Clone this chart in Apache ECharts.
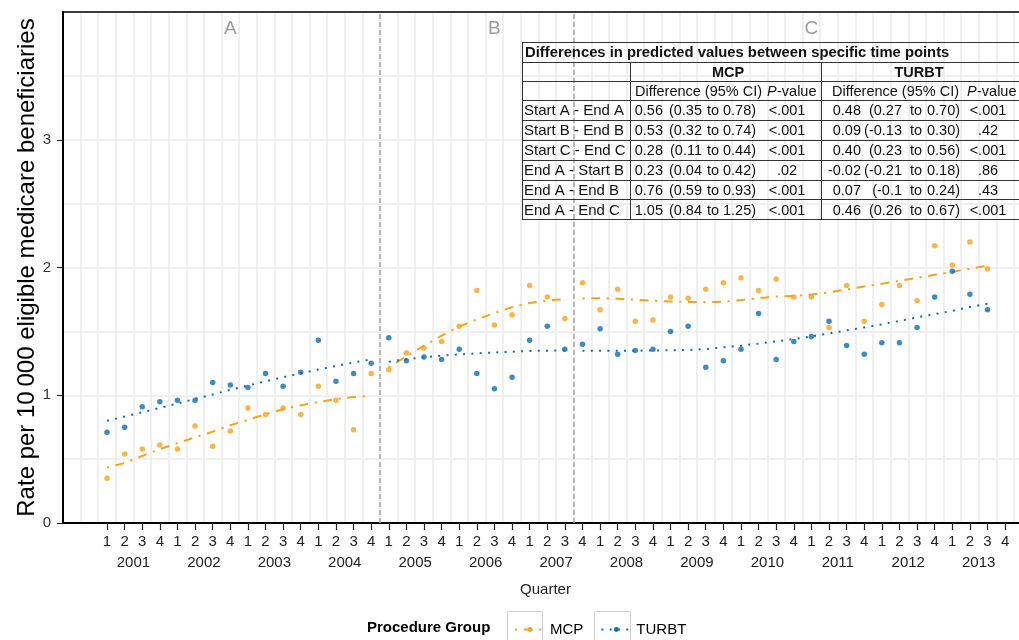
<!DOCTYPE html>
<html><head><meta charset="utf-8">
<script src="https://cdn.jsdelivr.net/npm/echarts@6/dist/echarts.min.js"></script>
<style>html,body{margin:0;padding:0;background:#fff}#c{width:1019px;height:640px}</style>
</head><body><div id="c"></div>
<script>
// ---------- data ----------
const years = ['2001','2002','2003','2004','2005','2006','2007','2008','2009','2010','2011','2012','2013'];
const quarterNames = ['1','2','3','4'];
const seriesNames = ['MCP','TURBT'];
const periodNames = ['A','B','C'];
const periodStart = [0, 16, 27];   // quarter index where each period starts
const periodEnd = [15, 26, 50];    // quarter index where each period ends
const periodBreaks = [15.5, 26.5];
const periodLabelAt = [7, 22, 40];

// observed rates, 2001 Q1 .. 2013 Q3
const mcpObs = [0.35,0.54,0.58,0.61,0.58,0.76,0.60,0.72,0.90,0.85,0.90,0.85,1.07,0.96,0.73,1.17,
  1.20,1.33,1.37,1.42,1.54,1.82,1.55,1.63,1.86,1.77,1.60,
  1.88,1.67,1.83,1.58,1.59,1.77,1.76,1.83,1.88,1.92,1.82,1.91,1.77,1.77,1.53,1.86,1.58,1.71,1.86,1.74,2.17,2.02,2.20,1.99];
const turbtObs = [0.71,0.75,0.91,0.95,0.96,0.96,1.10,1.08,1.06,1.17,1.07,1.18,1.43,1.11,1.17,1.25,
  1.45,1.27,1.30,1.28,1.36,1.17,1.05,1.14,1.43,1.54,1.36,
  1.40,1.52,1.32,1.35,1.36,1.50,1.54,1.22,1.27,1.36,1.64,1.28,1.42,1.46,1.58,1.39,1.32,1.41,1.41,1.53,1.77,1.97,1.79,1.67];
// fitted (predicted) values
const mcpFit = [0.435,0.47,0.525,0.578,0.625,0.672,0.715,0.765,0.807,0.852,0.89,0.922,0.947,0.97,0.986,0.995,
  1.22,1.305,1.388,1.466,1.537,1.594,1.643,1.69,1.722,1.742,1.752,
  1.758,1.759,1.755,1.747,1.740,1.734,1.730,1.729,1.732,1.745,1.760,1.773,1.778,1.788,1.805,1.828,1.852,1.873,1.896,1.919,1.943,1.966,1.99,2.015];
const turbtFit = [0.80,0.833,0.867,0.901,0.935,0.971,1.006,1.042,1.076,1.109,1.141,1.172,1.201,1.229,1.256,1.281,
  1.263,1.281,1.297,1.310,1.320,1.328,1.335,1.341,1.346,1.349,1.352,
  1.349,1.349,1.348,1.349,1.350,1.352,1.354,1.362,1.375,1.388,1.404,1.422,1.440,1.461,1.484,1.508,1.531,1.555,1.582,1.609,1.635,1.661,1.690,1.716];

// table
const tableTitle = 'Differences in predicted values between specific time points';
const tableRows = ['Start A - End A','Start B - End B','Start C - End C','End A - Start B','End A - End B','End A - End C'];
const mcpEst = ['0.56','0.53','0.28','0.23','0.76','1.05'];
const mcpLo  = ['0.35','0.32','0.11','0.04','0.59','0.84'];
const mcpHi  = ['0.78','0.74','0.44','0.42','0.93','1.25'];
const mcpP   = ['<.001','<.001','<.001','.02','<.001','<.001'];
const turbtEst = ['0.48','0.09','0.40','-0.02','0.07','0.46'];
const turbtLo  = ['0.27','-0.13','0.23','-0.21','-0.1','0.26'];
const turbtHi  = ['0.70','0.30','0.56','0.18','0.24','0.67'];
const turbtP   = ['<.001','.42','<.001','.86','.43','<.001'];

// ---------- chart ----------
const FONT = '"Liberation Sans", Arial, sans-serif';
const colors = {MCP:'#F7A21B', TURBT:'#0E6DB3'};
const dashes = {MCP:[2.2,6.6,8.8,6.6], TURBT:[2,6.3]};

const tickIdx = [];
const tickLabel = {};
years.forEach((y, yi) => quarterNames.forEach((q, qi) => { const k = yi*4+qi; tickIdx.push(k); tickLabel[k] = q; }));

const obs = {MCP: mcpObs, TURBT: turbtObs};
const fit = {MCP: mcpFit, TURBT: turbtFit};

const series = [];
seriesNames.forEach(name => {
  periodNames.forEach((p, pi) => {
    const d = [];
    for (let i = periodStart[pi]; i <= periodEnd[pi]; i++) d.push([i, fit[name][i]]);
    series.push({
      type:'line', name, data:d, xAxisIndex:0, yAxisIndex:0,
      showSymbol:false, symbol:'circle', symbolSize:5, smooth:false,
      lineStyle:{color:colors[name], width:2, type:dashes[name], cap:'butt'},
      itemStyle:{color:colors[name]}, z:3, silent:true
    });
  });
  series.push({
    type:'scatter', name, data: obs[name].map((v, i) => [i, v]), xAxisIndex:0, yAxisIndex:0,
    symbolSize:5.5, itemStyle:{color:colors[name]}, z:4, silent:true
  });
});
// period dividers and labels
series.push({
  type:'scatter', name:'periods', data:[], xAxisIndex:0, yAxisIndex:0, silent:true,
  markLine:{silent:true, symbol:['none','none'], label:{show:false},
    lineStyle:{color:'#a6a6a6', width:1.5, type:[5,3]},
    data: periodBreaks.map(b => ({xAxis:b}))},
  markPoint:{silent:true, symbol:'circle', symbolSize:0,
    label:{show:true, formatter:'{b}', color:'#9c9c9c', fontSize:19, fontFamily:FONT},
    data: periodNames.map((p, i) => ({name:p, coord:[periodLabelAt[i], 3.87]}))}
});

// table graphic
const TF = 14.5;
const g = [];
const L = (x1,y1,x2,y2,c) => g.push({type:'line', silent:true, z:50, shape:{x1,y1,x2,y2}, style:{stroke:c||'#333', lineWidth:1}});
const T = (text,x,y,opt) => g.push({type:'text', silent:true, z:51, style:Object.assign({text, x, y, fill:'#111', fontSize:TF, fontFamily:FONT, align:'left', verticalAlign:'middle'}, opt||{})});
[42.5,62.5,81.5,100.5,120.5,140.5,160.5,180.5,199.5,219.5].forEach(y => L(522,y,1019,y));
L(522.5,42.5,522.5,219.5); L(630.5,62.5,630.5,219.5); L(821.5,62.5,821.5,219.5);
T(tableTitle, 525, 53, {fontWeight:'bold', fontSize:14.8});
T('MCP', 728, 72.5, {fontWeight:'bold', align:'center'});
T('TURBT', 919, 72.5, {fontWeight:'bold', align:'center'});
T('Difference (95% CI)', 635, 91.5); T('P', 767, 91.5, {fontStyle:'italic'}); T('-value', 777, 91.5);
T('Difference (95% CI)', 832, 91.5); T('P', 967, 91.5, {fontStyle:'italic'}); T('-value', 977, 91.5);
const rowY = [111, 131, 151, 171, 190.5, 210.5];
tableRows.forEach((r, i) => {
  const y = rowY[i];
  T(r, 524, y, {fontSize:15});
  T(mcpEst[i], 663, y, {align:'right'});
  T('(' + mcpLo[i], 702, y, {align:'right'});
  T('to', 707, y);
  T(mcpHi[i] + ')', 723, y);
  T(mcpP[i], 787, y, {align:'center'});
  T(turbtEst[i], 861, y, {align:'right'});
  T('(' + turbtLo[i], 902, y, {align:'right'});
  T('to', 910, y);
  T(turbtHi[i] + ')', 927, y);
  T(turbtP[i], 988, y, {align:'center'});
});
// legend title and key boxes
T('Procedure Group', 367, 628, {fontWeight:'bold', fill:'#000', fontSize:15});
g.push({type:'rect', silent:true, z:40, shape:{x:507.5, y:611.5, width:35, height:40}, style:{fill:'none', stroke:'#cfcfcf', lineWidth:1}});
g.push({type:'rect', silent:true, z:40, shape:{x:594.5, y:611.5, width:36, height:40}, style:{fill:'none', stroke:'#cfcfcf', lineWidth:1}});

const option = {
  animation:false,
  textStyle:{fontFamily:FONT},
  grid:{left:63, right:-9, top:12, bottom:117, outerBoundsMode:'none', containLabel:false, show:false},
  legend:{data:seriesNames, left:509, top:617, itemWidth:30, itemHeight:6, itemGap:17,
    textStyle:{fontSize:15, color:'#000', fontFamily:FONT}, selectedMode:false},
  xAxis:[
    {type:'value', min:-2.5, max:52.3, position:'bottom',
     axisLine:{show:true, onZero:false, lineStyle:{color:'#000', width:2}},
     axisTick:{show:true, customValues:tickIdx, length:7, lineStyle:{color:'#222', width:1.2}},
     axisLabel:{show:true, customValues:tickIdx, formatter:v => tickLabel[v] || '', fontSize:15, color:'#222', margin:11},
     splitLine:{show:false},
     name:'Quarter', nameLocation:'middle', nameGap:59, nameTextStyle:{fontSize:15, color:'#222'}},
    {type:'value', min:-2, max:52.8, interval:1, position:'top',
     axisLine:{show:true, onZero:false, lineStyle:{color:'#000', width:1.5}}, axisTick:{show:false}, axisLabel:{show:false},
     splitLine:{show:true, lineStyle:{color:'#efefef', width:2}}},
    {type:'value', min:-4, max:50.8, interval:4, position:'bottom',
     axisLine:{show:false}, axisTick:{show:false}, splitLine:{show:false},
     axisLabel:{formatter:v => (v >= 0 && Number.isInteger(v/4) && years[v/4]) ? years[v/4] : '', fontSize:15, color:'#222', margin:32}}
  ],
  yAxis:[
    {type:'value', min:0, max:4, position:'left',
     axisLine:{show:true, onZero:false, lineStyle:{color:'#000', width:2}},
     axisTick:{show:true, customValues:[0,1,2,3], length:6, lineStyle:{color:'#222', width:1.2}},
     axisLabel:{customValues:[0,1,2,3], fontSize:15, color:'#333', margin:12},
     splitLine:{show:false},
     name:'Rate per 10\u2009000 eligible medicare beneficiaries', nameLocation:'middle', nameGap:24, nameMoveOverlap:false,
     nameTextStyle:{fontSize:24, color:'#000'}},
    {type:'value', min:0, max:4, interval:0.5, position:'left',
     axisLine:{show:false}, axisTick:{show:false}, axisLabel:{show:false},
     splitLine:{show:true, lineStyle:{color:'#efefef', width:2}}}
  ],
  series,
  graphic:{elements:g}
};
const chart = echarts.init(document.getElementById('c'), null, {renderer:'canvas'});
chart.setOption(option);
</script></body></html>
